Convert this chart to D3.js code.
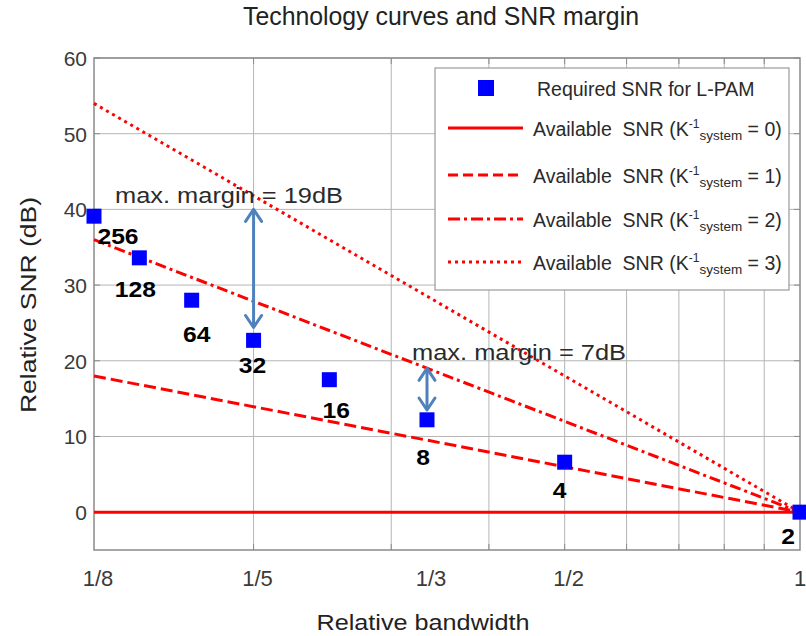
<!DOCTYPE html>
<html>
<head>
<meta charset="utf-8">
<script src="https://cdn.jsdelivr.net/npm/d3@7/dist/d3.min.js"></script>
<style>
  html, body { margin: 0; padding: 0; background: #fff; }
  svg { display: block; }
  text { font-family: "Liberation Sans", Arial, sans-serif; }
</style>
</head>
<body>
<svg id="chart" width="806" height="636"></svg>
<script>
// ---- data ----
const bandwidth   = [1/8, 1/7, 1/6, 1/5, 1/4, 1/3, 1/2, 1];
const pamLevels   = ["256", "128", "64", "32", "16", "8", "4", "2"];
const requiredSNR = [39.1, 33.6, 28.0, 22.7, 17.5, 12.2, 6.6, 0];

// available SNR lines: value at bandwidth 1/8 and at bandwidth 1
const kSystem        = [0, 1, 2, 3];
const availableStart = [0, 18, 36, 54];
const availableEnd   = [0, 0, 0, 0];

const xTickValues = [1/8, 1/5, 1/3, 1/2, 1];
const xTickLabels = ["1/8", "1/5", "1/3", "1/2", "1"];
const xGridValues = [0.2, 0.3, 0.4, 0.5, 0.6, 0.7, 0.8, 0.9];
const yTickValues = [0, 10, 20, 30, 40, 50, 60];

const marginBW    = [1/5, 1/3];
const marginTop   = [40, 19];
const marginBot   = [24.4, 13.5];
const marginTexts = ["max. margin = 19dB", "max. margin = 7dB"];

// ---- layout ----
const plot = { left: 94, right: 800, top: 58, bottom: 550 };
const RED = "#ff0000", BLUE = "#0000ff", ARROW = "#4f81bd";
const dashStyles = [null, "12,5", "11,4,3,4", "3,4"];
const legendDash = [null, "10,5", "12,4,3,4", "3,4"];
// label centre offset from each marker
const labelShift = [[24, 19], [-4, 31], [5, 33], [-1, 24], [7, 30], [-4, 37], [-5, 27], [-12, 23]];

const svg = d3.select("#chart");

const x = d3.scaleLog().base(2).domain([1/8, 1]).range([plot.left, plot.right]);
const y = d3.scaleLinear().domain([-5, 60]).range([plot.bottom, plot.top]);

// ---- grid ----
const grid = svg.append("g");
grid.selectAll("line.v").data(xGridValues).join("line")
  .attr("x1", d => x(d)).attr("x2", d => x(d))
  .attr("y1", plot.top).attr("y2", plot.bottom)
  .attr("stroke", "#b5b5b5").attr("stroke-width", 1);
grid.selectAll("line.h").data(yTickValues).join("line")
  .attr("x1", plot.left).attr("x2", plot.right)
  .attr("y1", d => y(d)).attr("y2", d => y(d))
  .attr("stroke", "#b5b5b5").attr("stroke-width", 1);

// inward tick marks on all four sides
const ticks = svg.append("g").attr("stroke", "#8a8a8a").attr("stroke-width", 1);
xGridValues.forEach(v => {
  ticks.append("line").attr("x1", x(v)).attr("x2", x(v)).attr("y1", plot.top).attr("y2", plot.top + 6);
  ticks.append("line").attr("x1", x(v)).attr("x2", x(v)).attr("y1", plot.bottom).attr("y2", plot.bottom - 6);
});
yTickValues.forEach(v => {
  ticks.append("line").attr("x1", plot.left).attr("x2", plot.left + 6).attr("y1", y(v)).attr("y2", y(v));
  ticks.append("line").attr("x1", plot.right).attr("x2", plot.right - 6).attr("y1", y(v)).attr("y2", y(v));
});

// axes box
svg.append("rect")
  .attr("x", plot.left).attr("y", plot.top)
  .attr("width", plot.right - plot.left).attr("height", plot.bottom - plot.top)
  .attr("fill", "none").attr("stroke", "#8a8a8a").attr("stroke-width", 1.5);

// ---- tick labels ----
svg.append("g").selectAll("text").data(yTickValues).join("text")
  .attr("x", plot.left - 7).attr("y", d => y(d) + 8)
  .attr("text-anchor", "end").attr("font-size", 21).attr("fill", "#3a3a3a")
  .text(d => d);

svg.append("g").selectAll("text").data(xTickValues).join("text")
  .attr("x", d => Math.min(x(d) + 4, 800)).attr("y", 586)
  .attr("text-anchor", "middle").attr("font-size", 22).attr("fill", "#3a3a3a")
  .text((d, i) => xTickLabels[i]);

// ---- axis labels and title ----
svg.append("text")
  .attr("x", 441).attr("y", 25).attr("text-anchor", "middle")
  .attr("font-size", 25).attr("fill", "#222")
  .attr("textLength", 396).attr("lengthAdjust", "spacingAndGlyphs")
  .text("Technology curves and SNR margin");

svg.append("text")
  .attr("x", 423).attr("y", 630).attr("text-anchor", "middle")
  .attr("font-size", 22).attr("fill", "#222")
  .attr("textLength", 213).attr("lengthAdjust", "spacingAndGlyphs")
  .text("Relative bandwidth");

svg.append("text")
  .attr("transform", "translate(36,305) rotate(-90)")
  .attr("text-anchor", "middle")
  .attr("font-size", 22).attr("fill", "#222")
  .attr("textLength", 216).attr("lengthAdjust", "spacingAndGlyphs")
  .text("Relative SNR (dB)");

// ---- available SNR lines ----
const line = d3.line().x(d => x(d[0])).y(d => y(d[1]));
const lines = svg.append("g");
kSystem.forEach((k, i) => {
  lines.append("path")
    .attr("d", line([[1/8, availableStart[i]], [1, availableEnd[i]]]))
    .attr("fill", "none").attr("stroke", RED).attr("stroke-width", 3)
    .attr("stroke-dasharray", dashStyles[i]);
});

// ---- required SNR markers and labels ----
const pts = bandwidth.map((b, i) => ({ b, v: requiredSNR[i], lab: pamLevels[i], s: labelShift[i] }));
const ms = 15;
svg.append("g").selectAll("rect").data(pts).join("rect")
  .attr("x", d => x(d.b) - ms / 2).attr("y", d => y(d.v) - ms / 2)
  .attr("width", ms).attr("height", ms).attr("fill", BLUE);

svg.append("g").selectAll("text").data(pts).join("text")
  .attr("x", d => x(d.b) + d.s[0]).attr("y", d => y(d.v) + d.s[1] + 8.5)
  .attr("text-anchor", "middle")
  .attr("font-family", "'DejaVu Sans', Verdana, sans-serif")
  .attr("font-weight", "bold").attr("font-size", 22).attr("fill", "#000")
  .attr("textLength", d => d.lab.length * 13.7).attr("lengthAdjust", "spacingAndGlyphs")
  .text(d => d.lab);

// ---- margin arrows ----
const arrows = svg.append("g").attr("stroke", ARROW).attr("stroke-width", 3)
  .attr("fill", "none").attr("stroke-linecap", "round").attr("stroke-linejoin", "round");
marginBW.forEach((b, i) => {
  const ax = x(b), t = y(marginTop[i]), bt = y(marginBot[i]);
  arrows.append("line").attr("x1", ax).attr("x2", ax).attr("y1", t + 1).attr("y2", bt - 1);
  arrows.append("path").attr("d", `M${ax - 8},${t + 12} L${ax},${t} L${ax + 8},${t + 12}`);
  arrows.append("path").attr("d", `M${ax - 8},${bt - 12} L${ax},${bt} L${ax + 8},${bt - 12}`);
});

// annotation text
const notePos = [[115, 203], [412, 360]];
const noteLen = [228, 214];
marginTexts.forEach((t, i) => {
  svg.append("text")
    .attr("x", notePos[i][0]).attr("y", notePos[i][1])
    .attr("font-size", 22).attr("fill", "#2a2a2a")
    .attr("textLength", noteLen[i]).attr("lengthAdjust", "spacingAndGlyphs")
    .text(t);
});

// ---- legend ----
const lg = svg.append("g");
lg.append("rect").attr("x", 435).attr("y", 68).attr("width", 354).attr("height", 222)
  .attr("fill", "#fff").attr("stroke", "#9a9a9a").attr("stroke-width", 1.2);

lg.append("rect").attr("x", 486 - 8).attr("y", 88 - 8).attr("width", 16).attr("height", 16).attr("fill", BLUE);
lg.append("text").attr("x", 537).attr("y", 95.5)
  .attr("font-size", 19.5).attr("fill", "#2a2a2a")
  .text("Required SNR for L-PAM");

const legendY = [128, 175, 219, 262];
kSystem.forEach((k, i) => {
  const ly = legendY[i];
  lg.append("line").attr("x1", 448).attr("x2", 523).attr("y1", ly).attr("y2", ly)
    .attr("stroke", RED).attr("stroke-width", 3).attr("stroke-dasharray", legendDash[i]);
  const t = lg.append("text").attr("x", 533).attr("y", ly + 7.5)
    .attr("font-size", 19.5).attr("fill", "#2a2a2a").attr("xml:space", "preserve");
  t.append("tspan").text("Available  SNR (K");
  t.append("tspan").attr("font-size", 12).attr("dy", -8).text("-1");
  t.append("tspan").attr("font-size", 13.5).attr("dy", 12).text("system");
  t.append("tspan").attr("dy", -4).text(` = ${k})`);
});
</script>
</body>
</html>
